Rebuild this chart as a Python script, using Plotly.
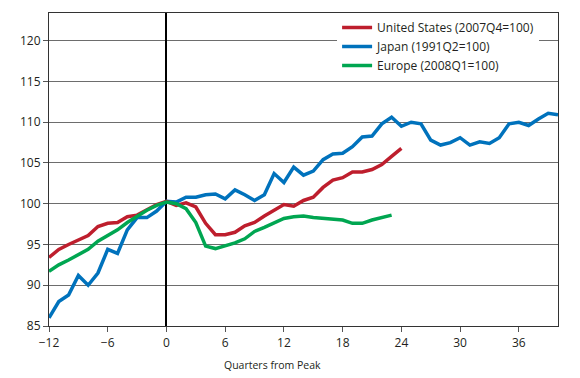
import plotly.graph_objects as go

# Quarters from peak
us_q = list(range(-12, 25))
us_vals = [93.4, 94.4, 95.0, 95.6, 96.1, 97.2, 97.6, 97.7, 98.4, 98.6, 99.2, 99.9, 100.3,
           99.8, 100.1, 99.6, 97.6, 96.2, 96.2, 96.5, 97.3, 97.7, 98.5, 99.2, 99.9,
           99.7, 100.4, 100.8, 102.0, 102.9, 103.2, 103.9, 103.9, 104.2, 104.8, 105.8, 106.8]

jp_q = list(range(-12, 41))
jp_vals = [86.0, 88.0, 88.8, 91.2, 90.0, 91.5, 94.4, 93.9, 96.8, 98.3, 98.3, 99.1, 100.3,
           100.2, 100.8, 100.8, 101.1, 101.2, 100.6, 101.7, 101.1, 100.4, 101.1, 103.7, 102.6,
           104.5, 103.5, 104.0, 105.4, 106.1, 106.2, 107.0, 108.2, 108.3, 109.8, 110.6, 109.5,
           110.0, 109.8, 107.8, 107.2, 107.5, 108.1, 107.2, 107.6, 107.4, 108.1, 109.8, 110.0,
           109.6, 110.4, 111.1, 110.9]

eu_q = list(range(-12, 24))
eu_vals = [91.7, 92.5, 93.1, 93.7, 94.4, 95.4, 96.1, 96.8, 97.7, 98.5, 99.2, 99.8, 100.2,
           100.0, 99.4, 97.7, 94.8, 94.5, 94.8, 95.2, 95.7, 96.6, 97.1, 97.6, 98.2,
           98.4, 98.5, 98.3, 98.2, 98.0, 98.0, 97.6, 97.6, 98.0, 98.35, 98.6]

x_ticks = [-12, -6, 0, 6, 12, 18, 24, 30, 36]
y_ticks = [85, 90, 95, 100, 105, 110, 115, 120]

names = ["United States (2007Q4=100)", "Japan (1991Q2=100)", "Europe (2008Q1=100)"]
colors = ["#BE1E2D", "#0072BC", "#00A651"]
x_title = "Quarters from Peak"

fig = go.Figure()
fig.add_trace(go.Scatter(x=jp_q, y=jp_vals, mode="lines", name=names[1], legendrank=2,
                         line=dict(color=colors[1], width=3.5)))
fig.add_trace(go.Scatter(x=us_q, y=us_vals, mode="lines", name=names[0], legendrank=1,
                         line=dict(color=colors[0], width=3.5)))
fig.add_trace(go.Scatter(x=eu_q, y=eu_vals, mode="lines", name=names[2], legendrank=3,
                         line=dict(color=colors[2], width=3.5)))

font_family = "Open Sans, Lato, sans-serif"
# the page body adds an 8px margin, so the figure is sized/margined to compensate
fig.update_layout(
    width=572, height=370,
    margin=dict(l=41, r=22, t=5, b=52),
    paper_bgcolor="white", plot_bgcolor="white",
    font=dict(family=font_family, size=12, color="#231F20"),
    showlegend=True,
    legend=dict(x=0.566, y=1.0, xanchor="left", yanchor="top",
                bgcolor="white", borderwidth=0,
                font=dict(size=12, color="#231F20"),
                itemwidth=30, tracegroupgap=0),
    xaxis=dict(range=[-12, 40], tickvals=x_ticks,
               ticktext=["\u2212" + str(-v) if v < 0 else str(v) for v in x_ticks],
               showgrid=False, zeroline=True, zerolinecolor="#000000", zerolinewidth=1.5,
               showline=True, linecolor="#333333", linewidth=1.2, mirror=True,
               ticks="outside", ticklen=5, tickcolor="#555555",
               tickfont=dict(size=12)),
    yaxis=dict(range=[85, 123.4], tickvals=y_ticks,
               showgrid=True, gridcolor="#6d6d6d", gridwidth=1.2, zeroline=False,
               showline=True, linecolor="#333333", linewidth=1.2, mirror=True,
               ticks="outside", ticklen=5, tickcolor="#555555",
               tickfont=dict(size=12)),
    annotations=[dict(text=x_title, xref="paper", yref="paper", x=0.44, y=0,
                      xanchor="center", yanchor="top", yshift=-30, showarrow=False,
                      font=dict(size=10.5, color="#231F20"))],
)

fig.write_html("out.html")
